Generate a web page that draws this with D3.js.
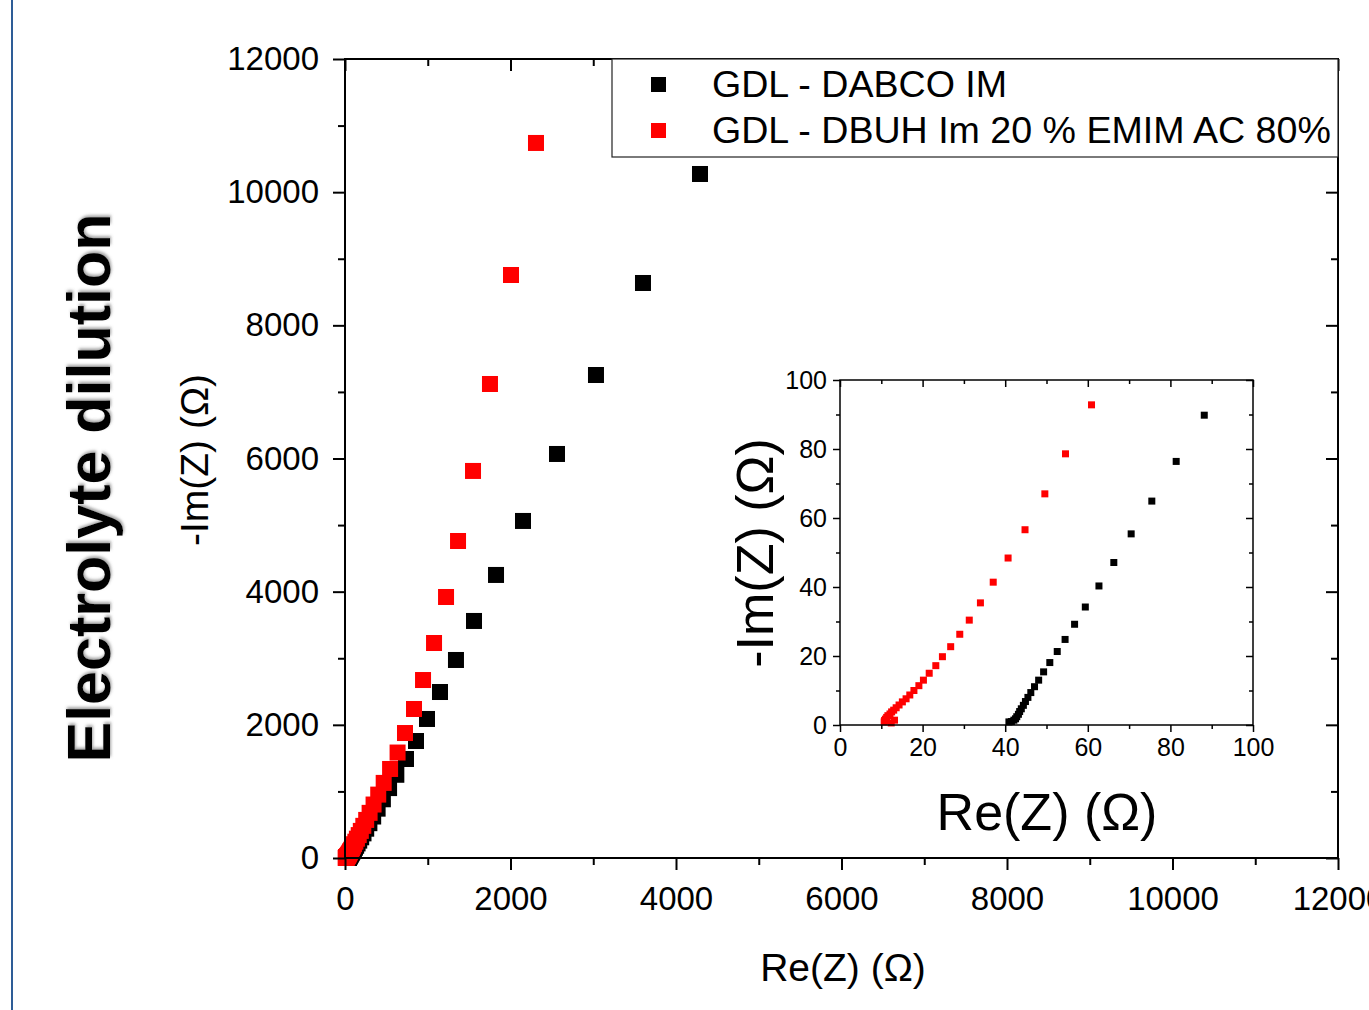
<!DOCTYPE html>
<html>
<head>
<meta charset="utf-8">
<script src="https://cdn.jsdelivr.net/npm/d3@7"></script>
<style>
  body { margin: 0; background: #fff; }
  svg { display: block; font-family: "Liberation Sans", Arial, sans-serif; }
  .axis text { fill: #000; }
  .axis line { stroke: #000; }
</style>
</head>
<body>
<div id="chart"></div>
<script>
/////////////////////////////////////
///      DATA  [Re(Z), -Im(Z)] in ohm
/////////////////////////////////////

var dabcoPoints = [
  [40.9,0.9],[41.5,1.0],[42.1,1.4],[42.5,1.8],[42.8,2.4],[43.2,3.1],[43.5,3.9],[43.9,4.7],
  [44.4,5.7],[44.9,6.8],[45.5,8.0],[46.2,9.4],[47.1,11.1],[48.1,13.0],[49.3,15.4],[50.8,18.1],
  [52.6,21.3],[54.5,24.8],[56.8,29.2],[59.4,34.2],[62.7,40.3],[66.3,47.1],[70.5,55.4],[75.5,64.9],
  [81.4,76.4],[88.2,89.8],[97.6,109],[108.1,130],[120.5,155],[134.7,184],[151.7,219],[171.9,261],
  [195.7,311],[223.5,370],[256.2,440],[294.6,523],[340.5,623],[394.1,741],[457.6,882],[532.6,1050],
  [620.3,1250],[737,1487],[858,1757],[991,2088],[1148,2493],[1341,2974],[1559,3560],[1825,4251],
  [2151,5062],[2562,6068],[3033,7254],[3601,8636],[4290,10273]
];

var dbuhPoints = [
  [13.2,1.4],[12.4,0.6],[10.7,0.9],[10.8,1.3],[11.0,1.7],[11.3,2.2],[11.6,2.7],[12.1,3.2],
  [12.5,3.8],[13.0,4.3],[13.6,5.0],[14.3,5.8],[15.1,6.7],[16.0,7.6],[16.9,8.7],[17.9,10.0],
  [19.1,11.4],[20.2,13.0],[21.6,15.0],[23.2,17.2],[24.8,19.8],[26.8,22.7],[29.0,26.3],[31.3,30.4],
  [34.0,35.4],[37.1,41.4],[40.7,48.4],[44.8,56.6],[49.6,67.0],[54.6,78.6],[60.9,92.8],[66.2,105],
  [74.4,124],[84.2,147],[95.6,174],[109.5,207],[125.3,245],[143.8,290],[165.8,344],[191.1,407],
  [221.3,483],[256.2,572],[297.3,678],[345.2,803],[401.6,952],[467.5,1128],[544.9,1337],[635.4,1584],
  [725,1877],[834,2238],[943,2673],[1076,3229],[1221,3920],[1366,4761],[1547,5813],[1752,7119],
  [2006,8756],[2308,10739]
];

var seriesNames = ["GDL - DABCO IM", "GDL - DBUH Im 20 % EMIM AC 80%"];
var seriesColors = ["#000000", "#ff0000"];

var mainMajor = [0,2000,4000,6000,8000,10000,12000];
var mainMinor = [1000,3000,5000,7000,9000,11000];
var insetMajor = [0,20,40,60,80,100];
var insetMinor = [10,30,50,70,90];

var width = 1369, height = 1010;

var svg = d3.select("#chart").append("svg")
    .attr("width", width)
    .attr("height", height);

var defs = svg.append("defs");
var shadow = defs.append("filter").attr("id", "soft").attr("x", "-10%").attr("y", "-10%")
    .attr("width", "120%").attr("height", "120%");
shadow.append("feDropShadow").attr("dx", 2).attr("dy", 1).attr("stdDeviation", 1.6)
    .attr("flood-color", "#666").attr("flood-opacity", 0.6);

// page edge line
svg.append("line").attr("x1", 12).attr("x2", 12).attr("y1", 0).attr("y2", height)
   .attr("stroke", "#2e5d97").attr("stroke-width", 2);

svg.append("text")
   .attr("transform", "translate(110,488) rotate(-90)")
   .attr("text-anchor", "middle")
   .attr("font-weight", "bold")
   .attr("font-size", 61)
   .attr("filter", "url(#soft)")
   .text("Electrolyte dilution");

/////////////////////////////////////
///      AXES HELPER
/////////////////////////////////////

function drawFrame(g, x, y, opt) {
  var x0 = x.range()[0], x1 = x.range()[1], y0 = y.range()[0], y1 = y.range()[1];
  function ax(gen, tx, ty, vals, size, pad) {
    var a = gen.tickValues(vals).tickSizeInner(size).tickSizeOuter(0);
    if (pad != null) a.tickPadding(pad).tickFormat(d3.format("d"));
    else a.tickFormat("");
    var s = g.append("g").attr("class", "axis")
       .attr("transform", "translate(" + tx + "," + ty + ")")
       .call(a);
    s.select(".domain").remove();
    s.selectAll("line").attr("stroke-width", opt.sw);
    s.selectAll("text").attr("font-size", opt.font);
    return s;
  }
  // left & bottom: outward, labelled
  ax(d3.axisLeft(y), x0, 0, opt.major, opt.big, opt.padY);
  ax(d3.axisLeft(y), x0, 0, opt.minor, opt.small);
  ax(d3.axisBottom(x), 0, y0, opt.major, opt.big, opt.padX);
  ax(d3.axisBottom(x), 0, y0, opt.minor, opt.small);
  // top & right: inward
  ax(d3.axisBottom(x), 0, y1, opt.major, opt.big);
  ax(d3.axisBottom(x), 0, y1, opt.minor, opt.small);
  ax(d3.axisLeft(y), x1, 0, opt.major, opt.big);
  ax(d3.axisLeft(y), x1, 0, opt.minor, opt.small);
  g.append("rect").attr("x", x0).attr("y", y1)
   .attr("width", x1 - x0).attr("height", y0 - y1)
   .attr("fill", "none").attr("stroke", "#000").attr("stroke-width", opt.sw);
}

function drawSquares(g, x, y, pts, color, size, inside) {
  var data = inside ? pts.filter(function(d){ return d[0] <= x.domain()[1] && d[1] <= y.domain()[1]; }) : pts;
  g.append("g").selectAll("rect").data(data).enter().append("rect")
   .attr("x", function(d){ return x(d[0]) - size / 2; })
   .attr("y", function(d){ return y(d[1]) - size / 2; })
   .attr("width", size).attr("height", size)
   .attr("fill", color);
}

/////////////////////////////////////
///      MAIN PLOT
/////////////////////////////////////

var x = d3.scaleLinear().domain([0, 12000]).range([345, 1338]);
var y = d3.scaleLinear().domain([0, 12000]).range([858, 59]);

var main = svg.append("g");
drawSquares(main, x, y, dabcoPoints, seriesColors[0], 16, false);
drawSquares(main, x, y, dbuhPoints, seriesColors[1], 16, false);
drawFrame(main, x, y, {major: mainMajor, minor: mainMinor, big: 12, small: 7, sw: 2, font: 33, padX: 17, padY: 14});

main.append("text").attr("x", 843).attr("y", 981).attr("text-anchor", "middle")
    .attr("font-size", 39).text("Re(Z) (\u03A9)");
main.append("text").attr("transform", "translate(208,460) rotate(-90)")
    .attr("text-anchor", "middle").attr("font-size", 39).text("-Im(Z) (\u03A9)");

// legend
var legend = svg.append("g");
legend.append("rect").attr("x", 612).attr("y", 59).attr("width", 726).attr("height", 98)
      .attr("fill", "#fff").attr("stroke", "#222").attr("stroke-width", 1.2);
seriesNames.forEach(function(name, i) {
  legend.append("rect").attr("x", 651).attr("y", 77 + i * 46).attr("width", 15).attr("height", 15)
        .attr("fill", seriesColors[i]);
  legend.append("text").attr("x", 712).attr("y", 97 + i * 46).attr("font-size", 37.6).text(name);
});

/////////////////////////////////////
///      INSET
/////////////////////////////////////

var xi = d3.scaleLinear().domain([0, 100]).range([840, 1253]);
var yi = d3.scaleLinear().domain([0, 100]).range([725, 380]);

var inset = svg.append("g");
inset.append("rect").attr("x", 840).attr("y", 380).attr("width", 413).attr("height", 345).attr("fill", "#fff");
drawSquares(inset, xi, yi, dabcoPoints, seriesColors[0], 7, true);
drawSquares(inset, xi, yi, dbuhPoints, seriesColors[1], 7, true);
drawFrame(inset, xi, yi, {major: insetMajor, minor: insetMinor, big: 7, small: 4, sw: 1.5, font: 25, padX: 6, padY: 6});

inset.append("text").attr("x", 1047).attr("y", 830).attr("text-anchor", "middle")
     .attr("font-size", 52).text("Re(Z) (\u03A9)");
inset.append("text").attr("transform", "translate(773,553) rotate(-90)")
     .attr("text-anchor", "middle").attr("font-size", 52).text("-Im(Z) (\u03A9)");
</script>
</body>
</html>
